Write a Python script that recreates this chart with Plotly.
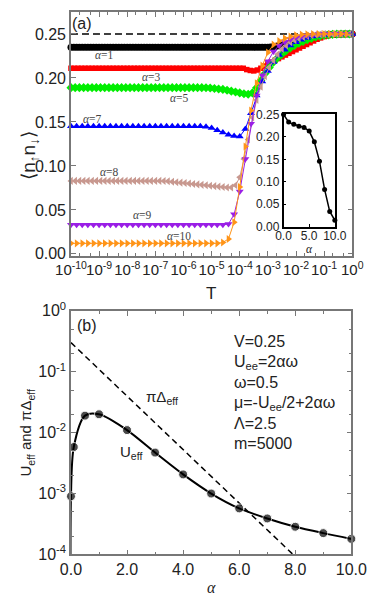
import plotly.graph_objects as go

W, H = 382, 606
SANS = "Liberation Sans, Arial, sans-serif"
SERIF = "Liberation Serif, Times New Roman, serif"

# ---------------- panel (a): <n_up n_down> vs T ----------------
alphas = [1, 3, 5, 7, 8, 9, 10]
colors = ['#000000', '#ff0000', '#00ee00', '#0000ff', '#c8988f', '#9a1ee6', '#ff9418']
symbols = ['circle', 'square', 'diamond', 'triangle-up', 'triangle-left',
           'triangle-down', 'triangle-right']
msizes = [7, 5.5, 7, 7, 7, 7, 7]

# low-T plateau value, log10(T) where the plateau ends, sampling step (decades)
plateau = [0.235, 0.211, 0.189, 0.145, 0.083, 0.033, 0.012]
tail_from = [-3.0, -3.75, -5.2, -5.4, -6.7, -4.6, -4.8]
steps = [0.1, 0.125, 0.15, 0.2, 0.15, 0.2, 0.2]

tail_a1 = [0.235, 0.2352, 0.2355, 0.236, 0.2365, 0.237, 0.2378, 0.2386, 0.2394, 0.2402,
           0.241, 0.2418, 0.2426, 0.2434, 0.2442, 0.245, 0.2458, 0.2465, 0.2472, 0.2478,
           0.2483, 0.2487, 0.249, 0.2493, 0.2495, 0.2497, 0.2498, 0.2499, 0.25, 0.25, 0.25]
tail_a3 = [0.2095, 0.2085, 0.208, 0.209, 0.211, 0.2135, 0.216, 0.218, 0.22, 0.222,
           0.224, 0.226, 0.228, 0.23, 0.232, 0.234, 0.236, 0.238, 0.24, 0.242,
           0.244, 0.2455, 0.247, 0.248, 0.249, 0.2495, 0.2498, 0.25, 0.25, 0.25, 0.25]
tail_a5 = [0.1888, 0.1885, 0.188, 0.1875, 0.187, 0.186, 0.185, 0.184, 0.183, 0.182,
           0.1815, 0.183, 0.189, 0.197, 0.205, 0.212, 0.218, 0.223, 0.227, 0.231,
           0.234, 0.237, 0.2395, 0.2415, 0.2435, 0.245, 0.2465, 0.2475, 0.2485, 0.249,
           0.2495, 0.2498, 0.25, 0.25, 0.25]
tail_a7 = [0.145, 0.1445, 0.143, 0.1405, 0.138, 0.1355, 0.134, 0.1335, 0.142, 0.160,
           0.180, 0.196, 0.208, 0.218, 0.226, 0.232, 0.237, 0.2405, 0.2435, 0.2455,
           0.247, 0.248, 0.249, 0.2495, 0.2498, 0.25, 0.25, 0.25]
tail_a8 = [0.0828, 0.0825, 0.082, 0.0815, 0.081, 0.0805, 0.08, 0.0795, 0.079, 0.0785,
           0.078, 0.0775, 0.077, 0.0765, 0.076, 0.0755, 0.0755, 0.078, 0.087, 0.108,
           0.130, 0.155, 0.175, 0.19, 0.202, 0.212, 0.22, 0.227, 0.233, 0.237,
           0.2405, 0.243, 0.245, 0.2465, 0.2478, 0.2487, 0.2493, 0.2497, 0.25, 0.25,
           0.25, 0.25, 0.25, 0.25, 0.25]
tail_a9 = [0.033, 0.034, 0.045, 0.071, 0.108, 0.148, 0.180, 0.203, 0.219, 0.23,
           0.237, 0.241, 0.244, 0.246, 0.2475, 0.2485, 0.2492, 0.2497, 0.25, 0.25,
           0.25, 0.25, 0.25, 0.25]
tail_a10 = [0.012, 0.013, 0.017, 0.036, 0.076, 0.122, 0.163, 0.194, 0.214, 0.229,
            0.238, 0.242, 0.245, 0.247, 0.2485, 0.2493, 0.2497, 0.25, 0.25, 0.25,
            0.25, 0.25, 0.25, 0.25, 0.25]
tails = [tail_a1, tail_a3, tail_a5, tail_a7, tail_a8, tail_a9, tail_a10]

# inset: zero-T value vs alpha
alpha_in = [0, 1, 2, 3, 4, 5, 6, 7, 8, 9, 10]
d_in = [0.25, 0.233, 0.228, 0.224, 0.221, 0.213, 0.189, 0.146, 0.083, 0.034, 0.014]

# ---------------- panel (b): U_eff and pi*Delta_eff vs alpha ----------------
alpha_u = [0.0, 0.0, 0.1, 0.5, 1.0, 2.0, 3.0, 4.0, 5.0, 6.0, 7.0, 8.0, 9.0, 10.0]
u_eff = [1e-6, 9e-4, 5.8e-3, 0.019, 0.020, 0.011, 4.7e-3, 2.06e-3, 1.0e-3,
         5.7e-4, 3.9e-4, 2.85e-4, 2.24e-4, 1.8e-4]
alpha_pi = [0.0, 7.92]
pi_delta = [0.30, 1.0e-4]

fig = go.Figure()

# dashed 1/4 line
fig.add_trace(go.Scatter(x=[1e-10, 1], y=[0.25, 0.25], mode='lines',
                         line=dict(color='black', width=1.5, dash='7px,4px'),
                         xaxis='x', yaxis='y', showlegend=False))

for i, a in enumerate(alphas):
    st = steps[i]
    n_flat = round((tail_from[i] + 10) / st)
    lx = [-10 + k * st for k in range(n_flat)] + \
         [tail_from[i] + k * st for k in range(len(tails[i]))]
    ys = [plateau[i]] * n_flat + tails[i]
    fig.add_trace(go.Scatter(
        x=[10 ** v for v in lx], y=ys, mode='lines+markers',
        line=dict(color=colors[i], width=1),
        marker=dict(symbol=symbols[i], size=msizes[i], color=colors[i], line=dict(width=0)),
        xaxis='x', yaxis='y', showlegend=False, cliponaxis=False))

fig.add_trace(go.Scatter(x=alpha_in, y=d_in, mode='lines+markers',
                         line=dict(color='black', width=1.5),
                         marker=dict(size=5, color='black'),
                         xaxis='x3', yaxis='y3', showlegend=False, cliponaxis=False))

fig.add_trace(go.Scatter(x=alpha_pi, y=pi_delta, mode='lines',
                         line=dict(color='black', width=1.5, dash='6px,4px'),
                         xaxis='x2', yaxis='y2', showlegend=False))
fig.add_trace(go.Scatter(x=alpha_u, y=u_eff, mode='lines+markers',
                         line=dict(color='black', width=2, shape='spline', smoothing=0.8),
                         marker=dict(size=[0] + [9] * (len(u_eff) - 1), color='black'),
                         xaxis='x2', yaxis='y2', showlegend=False, cliponaxis=False))

FRAME = '#777777'
tickfont = dict(family=SANS, size=16, color='#222222')


def px_x(p):
    return p / W


def px_y(p):
    return 1 - p / H


ax_common = dict(showline=True, linecolor=FRAME, linewidth=1.5, mirror='ticks',
                 ticks='inside', tickcolor=FRAME, ticklen=5, showgrid=False,
                 zeroline=False, tickfont=tickfont, tickangle=0)

t_exps = list(range(-10, 1))
t_minor = [m * 10.0 ** e for e in range(-10, 0) for m in (2, 5)]
u_exps = list(range(-4, 1))
u_minor = [m * 10.0 ** e for e in range(-4, 0) for m in (2, 5)]

fig.update_layout(
    width=W, height=H, margin=dict(l=0, r=0, t=0, b=0),
    paper_bgcolor='white', plot_bgcolor='white', showlegend=False,
    xaxis=dict(ax_common, type='log', range=[-10, 0], domain=[px_x(60), px_x(367)],
               anchor='y', tickmode='array', tickvals=[10.0 ** e for e in t_exps],
               ticktext=['10<sup>%d</sup>' % e for e in t_exps],
               tickfont=dict(family=SANS, size=15, color='#222222'),
               minor=dict(ticks='inside', ticklen=3, tickcolor=FRAME,
                          tickmode='array', tickvals=t_minor)),
    yaxis=dict(ax_common, range=[-0.002, 0.275], domain=[px_y(253), px_y(1)],
               anchor='x', dtick=0.05, tick0=0, tickformat='.2f'),
    xaxis2=dict(ax_common, range=[0, 10], domain=[px_x(60), px_x(366)], anchor='y2',
                dtick=2, tick0=0, tickformat='.1f',
                minor=dict(ticks='inside', ticklen=3, tickcolor=FRAME, dtick=1)),
    yaxis2=dict(ax_common, type='log', range=[-4, 0], domain=[px_y(562), px_y(310)],
                anchor='x2', tickmode='array', tickvals=[10.0 ** e for e in u_exps],
                ticktext=['10<sup>%d</sup>' % e for e in u_exps],
                minor=dict(ticks='inside', ticklen=3, tickcolor=FRAME,
                           tickmode='array', tickvals=u_minor)),
    xaxis3=dict(showline=True, linecolor='black', linewidth=1.5, mirror=True,
                ticks='inside', ticklen=3, tickcolor='black', showgrid=False, zeroline=False,
                range=[0, 10], dtick=5, tickformat='.1f', domain=[px_x(292), px_x(348)],
                anchor='y3', tickfont=dict(family=SANS, size=12, color='#222'), tickangle=0,
                ticklabelstandoff=-3),
    yaxis3=dict(showline=True, linecolor='black', linewidth=1.5, mirror=True,
                ticks='inside', ticklen=3, tickcolor='black', showgrid=False, zeroline=False,
                range=[0, 0.25], dtick=0.05, tickformat='.2f', domain=[px_y(223), px_y(107)],
                anchor='x3', tickfont=dict(family=SANS, size=12, color='#222')),
)

ann = []


def note(text, x, y, size=16, family=SANS, xanchor='center', angle=0, color='#222222'):
    ann.append(dict(text=text, x=px_x(x), y=px_y(y), xref='paper', yref='paper',
                    showarrow=False, xanchor=xanchor, yanchor='middle', textangle=angle,
                    font=dict(family=family, size=size, color=color)))


# alpha labels on panel (a)
label_pos = [(97, 46), (148, 68), (178, 90), (83, 112), (102, 166), (138, 211), (178, 233)]
for a, (lx, ly) in zip(alphas, label_pos):
    note('<i>α</i>=%d' % a, lx, ly, size=11.5, family=SERIF, color='#444444')

note('(a)', 72, 13)
note('T', 213, 292, size=17)
note('⟨n<sub>↑</sub>n<sub>↓</sub>⟩', 15, 150, size=19, angle=-90)
note('<i>α</i>', 320, 246, size=11.5, family=SERIF)

note('(b)', 78, 325)
note('<i>α</i>', 213, 596, size=16, family=SERIF)
note('U<sub>eff</sub> and πΔ<sub>eff</sub>', 12, 436, size=15, angle=-90)
note('πΔ<sub>eff</sub>', 140, 400, size=15, xanchor='left')
note('U<sub>eff</sub>', 111, 457, size=15, xanchor='left')

params = ['V=0.25', 'U<sub>ee</sub>=2αω', 'ω=0.5', 'μ=-U<sub>ee</sub>/2+2αω', 'Λ=2.5', 'm=5000']
param_y = [342, 363, 384, 406, 427, 447]
for t, py in zip(params, param_y):
    note(t, 236, py, size=16, xanchor='left')

fig.update_layout(annotations=ann)
# the browser's default 8px body margin would shift the whole figure
fig.write_html("out.html", config={'displayModeBar': False},
               post_script="document.body.style.margin='0px';")
